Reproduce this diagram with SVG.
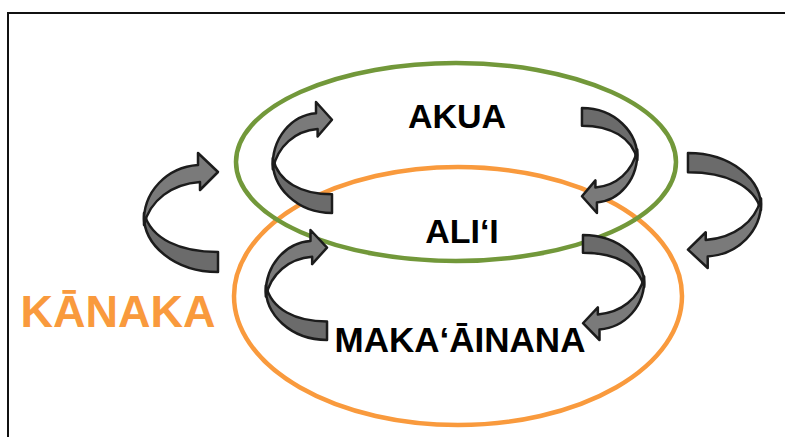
<svg xmlns="http://www.w3.org/2000/svg" width="785" height="437" viewBox="0 0 785 437">
<style>
.ring{fill:none;stroke-width:4.5}
.lo{fill:#6b6b6b;stroke:#1c1c1c;stroke-width:2.5;stroke-linejoin:round}
.up{fill:#7a7a7a;stroke:#1c1c1c;stroke-width:2.5;stroke-linejoin:round}
.lbl{font-family:"Liberation Sans",Arial,sans-serif;font-weight:bold;fill:#000;text-anchor:middle}
</style>
<defs>
<g id="carrow">
<path class="lo" vector-effect="non-scaling-stroke" d="M75,99 C37,99 8,86 1,60 C-1,92 32,119 75,119 Z"/>
<path class="up" vector-effect="non-scaling-stroke" d="M1,72 C-1,38 25,14 55,12 L55,0 L75,19 L57,37 L57,29 C29,31 7,47 1,72 Z"/>
</g>
</defs>
<rect width="785" height="437" fill="#fff"/>
<path d="M8,437 V13 H785" fill="none" stroke="#111" stroke-width="2"/>
<g id="rings">
<ellipse id="kanaka-ring" class="ring" cx="458" cy="296" rx="224" ry="129" stroke="#f99a3d"/>
<ellipse id="akua-ring" class="ring" cx="456" cy="162" rx="220" ry="99" stroke="#72983a"/>
</g>
<g id="connectors">
<use href="#carrow" transform="translate(143,153)"/>
<use href="#carrow" transform="translate(272,102) scale(0.8,0.933)"/>
<use href="#carrow" transform="translate(265,230) scale(0.827,0.924)"/>
<use href="#carrow" transform="translate(638,213) scale(-0.747,-0.882)"/>
<use href="#carrow" transform="translate(762,268) scale(-0.987,-0.966)"/>
<use href="#carrow" transform="translate(645,340) scale(-0.827,-0.882)"/>
</g>
<g id="akua"><text class="lbl" x="457" y="128" font-size="34">AKUA</text></g>
<g id="alii"><text class="lbl" x="462" y="243" font-size="34">ALI‘I</text></g>
<g id="makaainana"><text class="lbl" x="460" y="352" font-size="35">MAKA‘ĀINANA</text></g>
<g id="kanaka"><text x="118" y="327" font-family="'Liberation Sans',Arial,sans-serif" font-weight="bold" font-size="45" fill="#f99a3d" text-anchor="middle">KĀNAKA</text></g>
</svg>
